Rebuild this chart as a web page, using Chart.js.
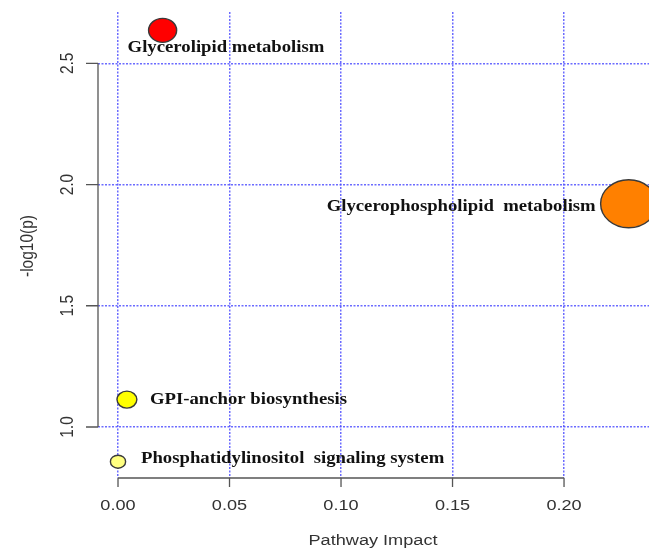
<!DOCTYPE html>
<html>
<head>
<meta charset="utf-8">
<script src="https://cdn.jsdelivr.net/npm/chart.js@4.4.1/dist/chart.umd.min.js"></script>
<style>
  html, body { margin: 0; padding: 0; background: #ffffff; overflow: hidden; }
  canvas { display: block; }
</style>
</head>
<body>
<canvas id="chart" width="649" height="554"></canvas>
<script>
// Pathway analysis results
const pathways = [
  'Glycerolipid metabolism',
  'Glycerophospholipid  metabolism',
  'GPI-anchor biosynthesis',
  'Phosphatidylinositol  signaling system'
];
const impact = [0.020, 0.229, 0.004, 0.000];
const negLogP = [2.636, 1.921, 1.113, 0.857];

const xTicks = [0.00, 0.05, 0.10, 0.15, 0.20];
const xTickLabels = ['0.00', '0.05', '0.10', '0.15', '0.20'];
const yTicks = [1.0, 1.5, 2.0, 2.5];
const yTickLabels = ['1.0', '1.5', '2.0', '2.5'];

// Marker appearance (fill by significance, size by impact)
const markerFill = ['#ff0000', '#ff8000', '#ffff00', '#ffff80'];
const markerRadius = [12, 24, 8.5, 6.5];

// The whole figure is drawn with a slight horizontal stretch
const stretchX = 1.17;

// Where each pathway name sits relative to its marker
const labelPlacement = [
  { dx: -35, dy: 18, align: 'left' },
  { dx: -33, dy: 3, align: 'right' },
  { dx: 23, dy: 0, align: 'left' },
  { dx: 23, dy: -3, align: 'left' }
];

const axisColor = '#555555';
const textColor = '#333333';
const sansFont = '15.5px "Liberation Sans"';

function stretchedText(ctx, text, x, y, align, rotate) {
  ctx.save();
  ctx.translate(x, y);
  ctx.scale(stretchX, 1);
  if (rotate) ctx.rotate(-Math.PI / 2);
  ctx.textAlign = align;
  ctx.fillText(text, 0, 0);
  ctx.restore();
}

const rStylePlot = {
  id: 'rStylePlot',
  afterDatasetsDraw(chart) {
    const { ctx, chartArea } = chart;
    const xs = chart.scales.x;
    const ys = chart.scales.y;
    const meta = chart.getDatasetMeta(0);
    ctx.save();

    // bubbles
    meta.data.forEach((pt, i) => {
      ctx.beginPath();
      ctx.ellipse(pt.x, pt.y, markerRadius[i] * stretchX, markerRadius[i], 0, 0, Math.PI * 2);
      ctx.fillStyle = markerFill[i];
      ctx.fill();
      ctx.lineWidth = 1.4;
      ctx.strokeStyle = '#3a3a3a';
      ctx.stroke();
    });

    // pathway names
    ctx.font = 'bold 16px "Liberation Serif"';
    ctx.fillStyle = '#111111';
    ctx.textBaseline = 'middle';
    meta.data.forEach((pt, i) => {
      const p = labelPlacement[i];
      stretchedText(ctx, pathways[i], pt.x + p.dx, pt.y + p.dy, p.align, false);
    });

    // axis lines and tick marks
    ctx.strokeStyle = axisColor;
    ctx.lineWidth = 1.3;
    const axX = chartArea.left;
    const axY = chartArea.bottom;

    ctx.beginPath();
    ctx.moveTo(axX, ys.getPixelForValue(yTicks[0]));
    ctx.lineTo(axX, ys.getPixelForValue(yTicks[yTicks.length - 1]));
    yTicks.forEach(v => {
      const py = ys.getPixelForValue(v);
      ctx.moveTo(axX - 12, py);
      ctx.lineTo(axX, py);
    });
    ctx.moveTo(xs.getPixelForValue(xTicks[0]), axY);
    ctx.lineTo(xs.getPixelForValue(xTicks[xTicks.length - 1]), axY);
    xTicks.forEach(v => {
      const px = xs.getPixelForValue(v);
      ctx.moveTo(px, axY);
      ctx.lineTo(px, axY + 9);
    });
    ctx.stroke();

    // tick labels
    ctx.fillStyle = textColor;
    ctx.font = sansFont;
    ctx.textBaseline = 'middle';
    xTicks.forEach((v, i) => {
      stretchedText(ctx, xTickLabels[i], xs.getPixelForValue(v), axY + 28, 'center', false);
    });
    yTicks.forEach((v, i) => {
      stretchedText(ctx, yTickLabels[i], axX - 30, ys.getPixelForValue(v), 'center', true);
    });

    // axis titles
    stretchedText(ctx, 'Pathway Impact', 373, 541, 'center', false);
    stretchedText(ctx, '-log10(p)', 28, 246, 'center', true);

    ctx.restore();
  }
};

const gridStyle = {
  color: 'rgba(70, 70, 255, 0.8)',
  lineWidth: 1.5,
  drawTicks: false
};

new Chart(document.getElementById('chart'), {
  type: 'scatter',
  data: {
    datasets: [{
      label: 'Pathways',
      data: impact.map((v, i) => ({ x: v, y: negLogP[i] })),
      pointRadius: 0,
      pointHoverRadius: 0
    }]
  },
  options: {
    responsive: false,
    animation: false,
    events: [],
    layout: { padding: { left: 98, top: 12, right: 0, bottom: 76 } },
    plugins: { legend: { display: false }, tooltip: { enabled: false } },
    scales: {
      x: {
        type: 'linear',
        min: -0.00897,
        max: 0.2381,
        afterBuildTicks: s => { s.ticks = xTicks.map(v => ({ value: v })); },
        ticks: { display: false },
        grid: gridStyle,
        border: { display: false, dash: [2, 1.5] }
      },
      y: {
        type: 'linear',
        min: 0.7897,
        max: 2.7116,
        afterBuildTicks: s => { s.ticks = yTicks.map(v => ({ value: v })); },
        ticks: { display: false },
        grid: gridStyle,
        border: { display: false, dash: [2, 1.5] }
      }
    }
  },
  plugins: [rStylePlot]
});
</script>
</body>
</html>
